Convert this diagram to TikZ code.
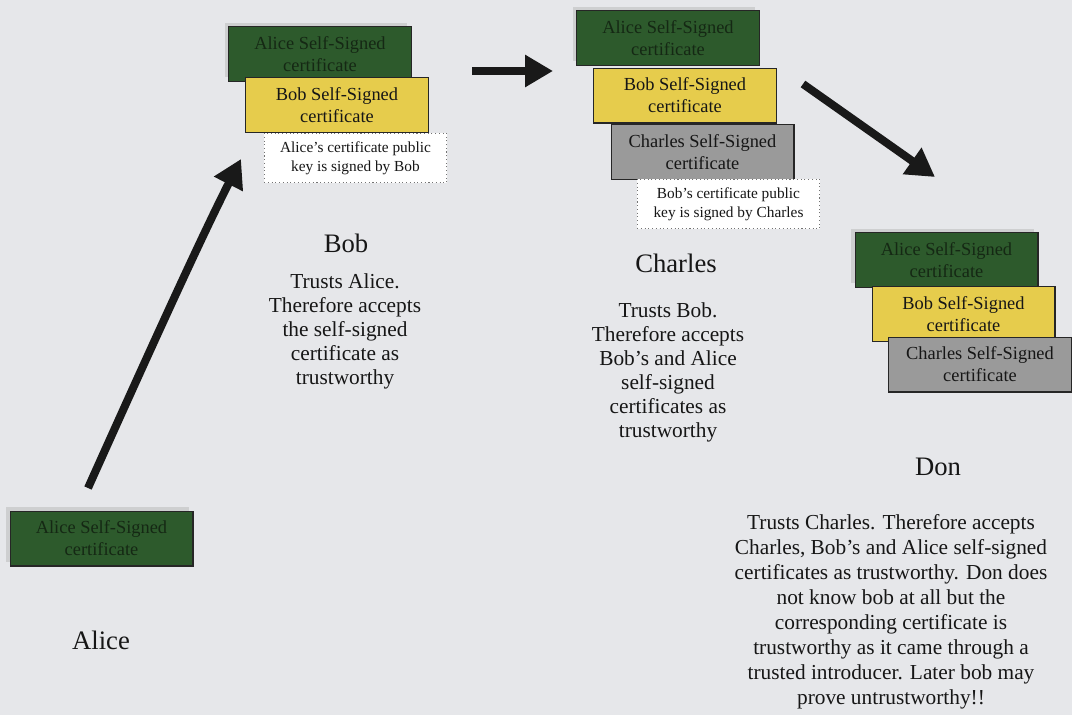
\documentclass[tikz,border=0pt]{standalone}
\usepackage{fontspec}
\setmainfont{Liberation Serif}
\usetikzlibrary{arrows.meta}
\definecolor{paper}{HTML}{E6E7EA}
\definecolor{certgreen}{HTML}{2D5A2C}
\definecolor{certyellow}{HTML}{E6CC4C}
\definecolor{certgray}{HTML}{9A9A9A}
\definecolor{greentext}{HTML}{152814}
\definecolor{inktext}{HTML}{161616}
\tikzset{
  cert/.style={draw=black!85, line width=1pt, minimum width=137pt, minimum height=41pt,
    inner sep=1pt, align=center, font=\fontsize{13.8}{16.5}\selectfont, text=inktext},
  certshadow/.style={fill=black!30, fill opacity=0.45, draw=none, minimum width=137pt, minimum height=41pt},
  alicecert/.style={cert, fill=certgreen, text=greentext},
  bobcert/.style={cert, fill=certyellow},
  charlescert/.style={cert, fill=certgray},
  signnote/.style={draw=black!55, dotted, line width=0.8pt, fill=white, minimum width=137pt,
    minimum height=37pt, inner sep=1pt, align=center, font=\fontsize{11.5}{14.2}\selectfont, text=inktext},
  person/.style={font=\fontsize{20}{24}\selectfont, text=inktext},
  story/.style={align=center, font=\fontsize{16}{18}\selectfont, text=inktext},
  bigarrow/.style={line width=6pt, black!90, -{Triangle[length=21pt, width=23pt]}}
}
\begin{document}
\begin{tikzpicture}[x=0.75pt, y=-0.75pt]
\useasboundingbox (0,0) rectangle (1072,715);
\fill[paper] (0,0) rectangle (1072,715);

% Alice alone
\node[certshadow] at (97.5,534.5) {};
\node[alicecert] (a0) at (101.5,538.5) {Alice Self-Signed\\certificate};
\node[person] (alice) at (101,640) {Alice};

% Bob's key ring
\node[certshadow] at (316,50) {};
\node[alicecert] (b1) at (320,54) {Alice Self-Signed\\certificate};
\node[bobcert] (b2) at (337,105) {Bob Self-Signed\\certificate};
\node[signnote] (b3) at (355.5,158) {Alice’s certificate public\\key is signed by Bob};
\node[person] (bob) at (346,243) {Bob};
\node[story] (bobtxt) at (345,331) {Trusts Alice.\\Therefore accepts\\the self-signed\\certificate as\\trustworthy};

% Charles's key ring
\node[certshadow] at (664,34) {};
\node[alicecert] (c1) at (668,38) {Alice Self-Signed\\certificate};
\node[bobcert] (c2) at (685,95.5) {Bob Self-Signed\\certificate};
\node[charlescert] (c3) at (702.5,152) {Charles Self-Signed\\certificate};
\node[signnote] (c4) at (728.5,204) {Bob’s certificate public\\key is signed by Charles};
\node[person] (charles) at (676,263) {Charles};
\node[story] (chatxt) at (668,372) {Trusts Bob.\\Therefore accepts\\Bob’s and Alice\\self-signed\\certificates as\\trustworthy};

% Don's key ring
\node[certshadow] at (942.5,256) {};
\node[alicecert] (d1) at (946.5,260) {Alice Self-Signed\\certificate};
\node[bobcert] (d2) at (963.5,314) {Bob Self-Signed\\certificate};
\node[charlescert] (d3) at (980,364.5) {Charles Self-Signed\\certificate};
\node[person] (don) at (938,467) {Don};
\node[story, font=\fontsize{16}{18.75}\selectfont] (dontxt) at (891,612) {Trusts Charles. Therefore accepts\\Charles, Bob’s and Alice self-signed\\certificates as trustworthy. Don does\\not know bob at all but the\\corresponding certificate is\\trustworthy as it came through a\\trusted introducer. Later bob may\\prove untrustworthy!!};

% hand-over arrows
\coordinate (p1s) at (88,488);
\coordinate (p1e) at (241,159);
\coordinate (p2s) at (472,71);
\coordinate (p2e) at (553,71);
\coordinate (p3s) at (803,84);
\coordinate (p3e) at (935,177);
\draw[bigarrow] (p1s) .. controls (150,350) and (200,240) .. (p1e);
\draw[bigarrow] (p2s) -- (p2e);
\draw[bigarrow] (p3s) -- (p3e);
\end{tikzpicture}
\end{document}
